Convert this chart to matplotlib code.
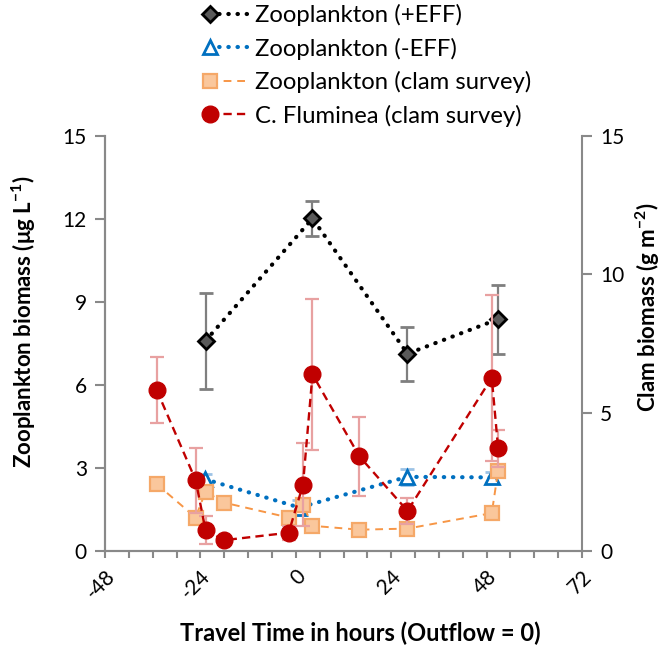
import numpy as np
import matplotlib
matplotlib.use("Agg")
import matplotlib.pyplot as plt
from matplotlib.legend_handler import HandlerLine2D
from matplotlib.ticker import MultipleLocator

plt.rcParams['font.family'] = ['Lato', 'DejaVu Sans']
plt.rcParams['axes.unicode_minus'] = False
plt.rcParams['mathtext.fontset'] = 'custom'
plt.rcParams['mathtext.rm'] = 'Lato'
plt.rcParams['mathtext.bf'] = 'Lato:bold'
plt.rcParams['mathtext.default'] = 'bf'

# Zooplankton with effluent (+EFF)
eff_hours = [-22.7, 4.2, 28.1, 50.9]
eff_zoo = [7.6, 12.02, 7.13, 8.38]
eff_err = [1.73, 0.62, 0.97, 1.25]

# Zooplankton without effluent (-EFF)
noeff_hours = [-22.9, 0.9, 28.0, 49.3]
noeff_zoo = [2.6, 1.57, 2.68, 2.66]
noeff_err = [0.2, 0.28, 0.3, 0.2]

# Clam survey: zooplankton and C. fluminea biomass
clam_hours = [-35.0, -25.2, -22.7, -18.1, -1.8, 1.8, 4.2, 16.0, 28.1, 49.3, 50.9]
clam_zoo = [2.42, 1.21, 2.15, 1.75, 1.21, 1.67, 0.91, 0.77, 0.81, 1.37, 2.9]
clam_bio = [5.82, 2.56, 0.75, 0.39, 0.66, 2.39, 6.38, 3.42, 1.45, 6.26, 3.71]
clam_bio_err = [1.2, 1.17, 0.5, 0.0, 0.25, 1.5, 2.72, 1.43, 0.46, 3.0, 0.68]

x_ticks = [-48, -24, 0, 24, 48, 72]
zoo_ticks = [0, 3, 6, 9, 12, 15]
clam_ticks = [0, 5, 10, 15]

GRAY = '#898989'
FS = 15
XLFS = 17
YLFS = 16

fig = plt.figure(figsize=(6.61, 6.52), dpi=100)
ax = fig.add_axes([105 / 661, 1 - 551 / 652, (582 - 105) / 661, (551 - 136) / 652])
ax2 = ax.twinx()

dots = (0, (0.1, 2.1))

l_eff = ax.errorbar(eff_hours, eff_zoo, yerr=eff_err, color='black', ls=dots, lw=3,
                    dash_capstyle='round', marker='D', ms=8.5, mfc='#595959', mec='black',
                    mew=2, ecolor='#7F7F7F', elinewidth=1.6, capsize=5, capthick=1.6,
                    label='Zooplankton (+EFF)', zorder=3)
l_noeff = ax.errorbar(noeff_hours, noeff_zoo, yerr=noeff_err, color='#0070C0', ls=dots, lw=3,
                      dash_capstyle='round', marker='^', ms=10, mfc='white', mec='#0070C0',
                      mew=2, ecolor='#9DC3E6', elinewidth=1.6, capsize=5, capthick=1.6,
                      label='Zooplankton (-EFF)', zorder=2)
l_clamzoo, = ax.plot(clam_hours, clam_zoo, color='#F79646', ls=(0, (4, 3)), lw=1.4,
                     marker='s', ms=10.5, mfc='#FAC79C', mec='#F5A868', mew=1.6,
                     label='Zooplankton (clam survey)', zorder=4)
l_clam = ax2.errorbar(clam_hours, clam_bio, yerr=clam_bio_err, color='#C00000', ls=(0, (3.5, 2.2)),
                      lw=1.7, marker='o', ms=12, mfc='#C00000', mec='#C00000',
                      ecolor='#E8A1A1', elinewidth=1.6, capsize=5, capthick=1.6,
                      label='C. Fluminea (clam survey)', zorder=3)

ax.set_xlim(-48, 72)
ax.set_ylim(0, 15)
ax2.set_ylim(0, 15)
ax.set_xticks(x_ticks)
ax.set_xticklabels([str(t) for t in x_ticks], rotation=45, ha='right', va='top',
                   rotation_mode='anchor', fontsize=FS)
ax.xaxis.set_minor_locator(MultipleLocator(6))
ax.set_yticks(zoo_ticks)
ax.set_yticklabels([str(t) for t in zoo_ticks], fontsize=FS)
ax2.set_yticks(clam_ticks)
ax2.set_yticklabels([str(t) for t in clam_ticks], fontsize=FS)

for a in (ax, ax2):
    a.spines['top'].set_visible(False)
    for s in ('left', 'right', 'bottom'):
        a.spines[s].set_color(GRAY)
        a.spines[s].set_linewidth(1.5)
    a.tick_params(which='both', color=GRAY, width=1.5, length=6, direction='out')
    a.patch.set_visible(False)
ax.tick_params(axis='x', which='both', length=5, pad=6)
ax.tick_params(axis='y', length=7, pad=6)
ax2.tick_params(axis='y', length=7, pad=6)
ax.spines['right'].set_visible(False)

ax.set_xlabel('Travel Time in hours (Outflow = 0)', fontsize=XLFS, fontweight='bold')
ax.set_ylabel(r'Zooplankton biomass (μg L$^{-1}$)', fontsize=YLFS, fontweight='bold')
ax2.set_ylabel(r'Clam biomass (g m$^{-2}$)', fontsize=YLFS, fontweight='bold')
ax.xaxis.set_label_coords(0.535, -0.17)
ax.yaxis.set_label_coords(-0.14, 0.552)
ax2.yaxis.set_label_coords(1.108, 0.587)


class MarkerAtStart(HandlerLine2D):
    """Legend entry with the marker at the left end of the line sample."""

    def create_artists(self, legend, orig_handle, xdescent, ydescent, width, height,
                       fontsize, trans):
        artists = super().create_artists(legend, orig_handle, xdescent, ydescent, width,
                                         height, fontsize, trans)
        for art in artists:
            if art.get_markevery() is not None:
                art.set_markevery([0])
        return artists


handles = [l_eff.lines[0], l_noeff.lines[0], l_clamzoo, l_clam.lines[0]]
labels = ['Zooplankton (+EFF)', 'Zooplankton (-EFF)', 'Zooplankton (clam survey)',
          'C. Fluminea (clam survey)']
fig.legend(handles, labels, loc='upper left', bbox_to_anchor=(210 / 661, 1 - 4 / 652),
           frameon=False, fontsize=XLFS + 0.2, handlelength=1.55, handletextpad=0.35,
           labelspacing=0.48, borderpad=0, borderaxespad=0,
           handler_map={h: MarkerAtStart() for h in handles})

fig.savefig('out.png', dpi=100)
